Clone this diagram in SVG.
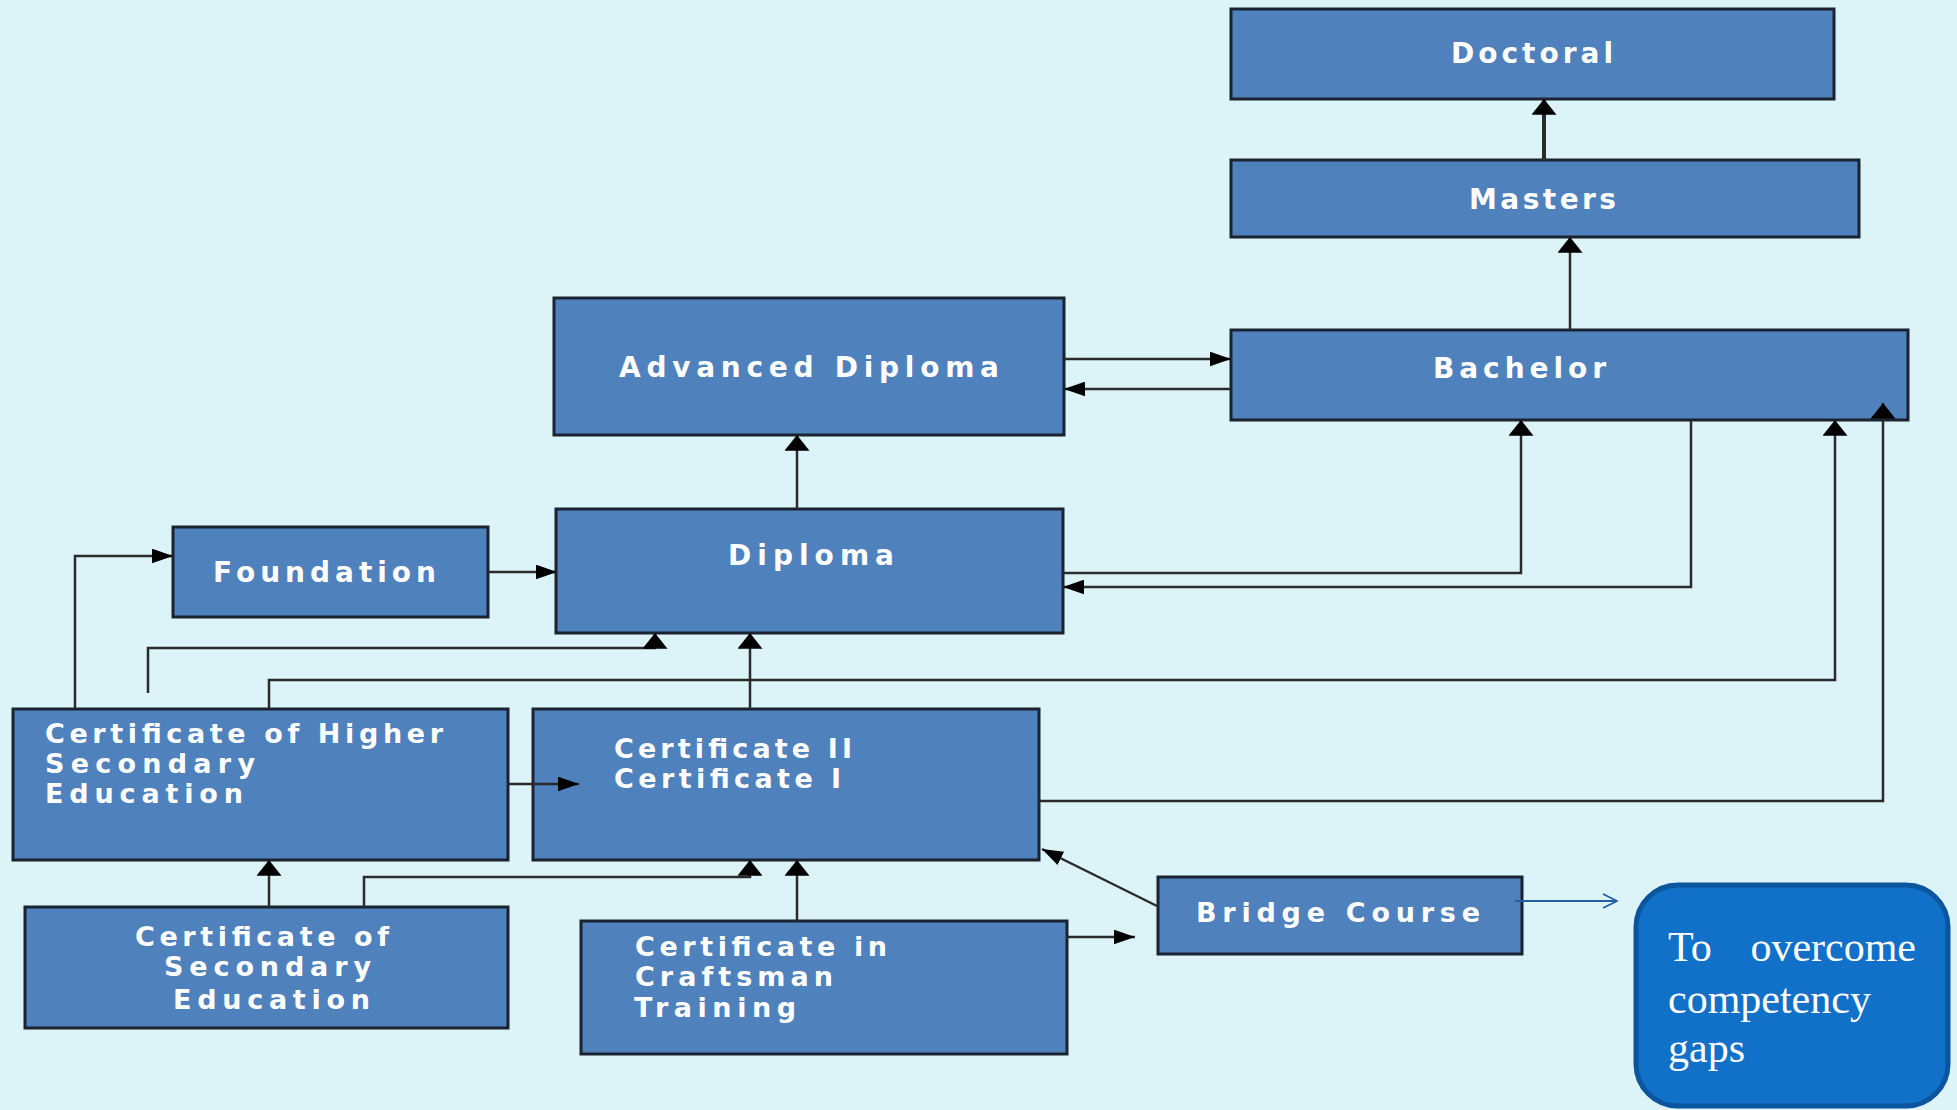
<svg xmlns="http://www.w3.org/2000/svg" width="1957" height="1110" viewBox="0 0 1957 1110">
<defs>
<style>
.box{fill:#4f81bd;stroke:#1b2330;stroke-width:3}
.lbl{font-family:"DejaVu Sans","Verdana",sans-serif;font-weight:bold;font-size:28px;fill:#ffffff}
.sm{font-size:27px}
.ln{fill:none;stroke:#2b2b2b;stroke-width:2.5}
.h{marker-end:url(#ah)}
.v{marker-end:url(#av)}
.gaps{fill:#1170c8;stroke:#0b559e;stroke-width:5}
.gt{font-family:"Liberation Serif","Times New Roman",serif;font-size:42px;fill:#ffffff}
</style>
<marker id="ah" viewBox="0 0 20 14" refX="20" refY="7" markerWidth="21" markerHeight="15" markerUnits="userSpaceOnUse" orient="auto">
<path d="M0,0 L20,7 L0,14 z" fill="#000"/>
</marker>
<marker id="av" viewBox="0 0 15 24" refX="15" refY="12" markerWidth="16" markerHeight="25" markerUnits="userSpaceOnUse" orient="auto">
<path d="M0,0 L15,12 L0,24 z" fill="#000"/>
</marker>
<marker id="ao" viewBox="0 0 16 16" refX="15" refY="8" markerWidth="16" markerHeight="16" markerUnits="userSpaceOnUse" orient="auto">
<path d="M1,1 L15,8 L1,15" fill="none" stroke="#1f5fa8" stroke-width="1.8"/>
</marker>
</defs>
<rect x="0" y="0" width="1957" height="1110" fill="#dcf4f8"/>

<g id="doctoral">
<rect class="box" x="1231" y="9" width="603" height="90"/>
<text class="lbl" x="1451" y="63" textLength="162" lengthAdjust="spacing">Doctoral</text>
</g>
<g id="masters">
<rect class="box" x="1231" y="160" width="628" height="77"/>
<text class="lbl" x="1469" y="209" textLength="147" lengthAdjust="spacing">Masters</text>
</g>
<g id="bachelor">
<rect class="box" x="1231" y="330" width="677" height="90"/>
<text class="lbl" x="1433" y="378" textLength="173" lengthAdjust="spacing">Bachelor</text>
</g>
<g id="advanced-diploma">
<rect class="box" x="554" y="298" width="510" height="137"/>
<text class="lbl" x="619" y="377" textLength="380" lengthAdjust="spacing">Advanced Diploma</text>
</g>
<g id="diploma">
<rect class="box" x="556" y="509" width="507" height="124"/>
<text class="lbl" x="728" y="565" textLength="166" lengthAdjust="spacing">Diploma</text>
</g>
<g id="foundation">
<rect class="box" x="173" y="527" width="315" height="90"/>
<text class="lbl" x="213" y="582" textLength="223" lengthAdjust="spacing">Foundation</text>
</g>
<g id="cert-higher-secondary">
<rect class="box" x="13" y="709" width="495" height="151"/>
<text class="lbl sm" x="45" y="743" textLength="398" lengthAdjust="spacing">Certificate of Higher</text>
<text class="lbl sm" x="45" y="773" textLength="210" lengthAdjust="spacing">Secondary</text>
<text class="lbl sm" x="45" y="803" textLength="198" lengthAdjust="spacing">Education</text>
</g>
<g id="certificate-1-2">
<rect class="box" x="533" y="709" width="506" height="151"/>
<text class="lbl sm" x="614" y="758" textLength="238" lengthAdjust="spacing">Certificate II</text>
<text class="lbl sm" x="614" y="788" textLength="227" lengthAdjust="spacing">Certificate I</text>
</g>
<g id="cert-secondary">
<rect class="box" x="25" y="907" width="483" height="121"/>
<text class="lbl sm" x="135" y="946" textLength="254" lengthAdjust="spacing">Certificate of</text>
<text class="lbl sm" x="164" y="976" textLength="207" lengthAdjust="spacing">Secondary</text>
<text class="lbl sm" x="173" y="1009" textLength="197" lengthAdjust="spacing">Education</text>
</g>
<g id="cert-craftsman">
<rect class="box" x="581" y="921" width="486" height="133"/>
<text class="lbl sm" x="635" y="956" textLength="252" lengthAdjust="spacing">Certificate in</text>
<text class="lbl sm" x="635" y="986" textLength="198" lengthAdjust="spacing">Craftsman</text>
<text class="lbl sm" x="634" y="1017" textLength="162" lengthAdjust="spacing">Training</text>
</g>
<g id="bridge-course">
<rect class="box" x="1158" y="877" width="364" height="77"/>
<text class="lbl sm" x="1196" y="922" textLength="284" lengthAdjust="spacing">Bridge Course</text>
</g>
<g id="competency-gaps">
<rect class="gaps" x="1636" y="885" width="312" height="221" rx="42" ry="42"/>
<text class="gt" x="1668" y="961">To</text>
<text class="gt" x="1916" y="961" text-anchor="end">overcome</text>
<text class="gt" x="1668" y="1013">competency</text>
<text class="gt" x="1668" y="1062">gaps</text>
</g>

<g id="connectors">
<path class="ln v" d="M1544,160 V99" style="stroke-width:4"/>
<path class="ln v" d="M1570,330 V237"/>
<path class="ln h" d="M1064,359 H1231"/>
<path class="ln h" d="M1231,389 H1064"/>
<path class="ln v" d="M797,509 V435"/>
<path class="ln v" d="M1063,573 H1521 V420"/>
<path class="ln h" d="M1691,420 V587 H1063"/>
<path class="ln h" d="M488,572 H557"/>
<path class="ln h" d="M75,708 V556 H173"/>
<path class="ln v" d="M148,693 V648 H655 V633"/>
<path class="ln v" d="M269,708 V680 H1835 V420"/>
<path class="ln v" d="M750,709 V633"/>
<path class="ln h" d="M508,784 H579"/>
<path class="ln v" d="M1039,801 H1883 V403"/>
<path class="ln v" d="M269,907 V860"/>
<path class="ln v" d="M364,907 V877 H750 V860"/>
<path class="ln v" d="M797,921 V860"/>
<path class="ln h" d="M1067,937 H1135"/>
<path class="ln h" d="M1157,906 L1042,849"/>
<path d="M1515,901 H1617" fill="none" stroke="#1f5fa8" stroke-width="1.8" marker-end="url(#ao)"/>
</g>
</svg>
